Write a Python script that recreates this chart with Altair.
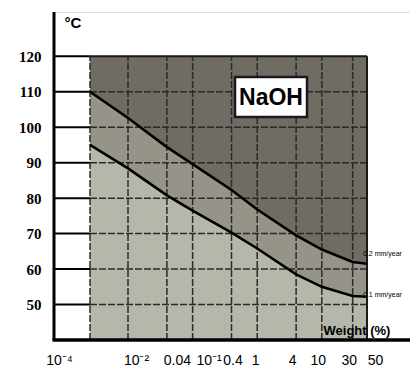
import altair as alt
import pandas as pd

# ---------------- data ----------------
weight = [1e-3, 1e-2, 0.04, 0.1, 0.4, 1, 4, 10, 30, 50]
temp_02 = [110, 102.6, 94.4, 89.6, 82.3, 76.8, 69.5, 65.5, 62.0, 61.5]   # 0.2 mm/year
temp_01 = [95, 88.4, 80.8, 76.5, 70.3, 65.8, 58.5, 55.0, 52.4, 52.2]     # 0.1 mm/year
curve_names = ["0.2 mm/year", "0.1 mm/year"]

tick_values = [1e-4, 1e-2, 0.04, 0.1, 0.4, 1, 4, 10, 30, 50]
tick_labels = ["10⁻⁴", "10⁻²", "0.04", "10⁻¹", "0.4", "1", "4", "10", "30", "50"]
temp_ticks = [50, 60, 70, 80, 90, 100, 110, 120]
grid_weights = [1e-3, 1e-2, 0.04, 0.1, 0.4, 1, 4, 10, 30]

t_min, t_max = 40, 120
x_origin, x_start, x_end = 5e-5, 1e-3, 50
title_text = "NaOH"

# ---------------- styling ----------------
W, H = 356, 328
DARK = "#706b63"
MID = "#969489"
LIGHT = "#b3b8aa"
GRID = "#2a2a2a"

label_offsets = [-3, 8, 10, 16, 1, -2, -4, -4, -4, 8]
vals_js = "[" + ",".join(repr(v) for v in tick_values) + "]"
labs_js = "[" + ",".join("'" + s + "'" for s in tick_labels) + "]"
offs_js = "[" + ",".join(str(v) for v in label_offsets) + "]"

xscale = alt.Scale(type="log", domain=[x_origin, 1e-4, 1e-3, 1e-2, x_end],
                   range=[0, 8, 36, 74, 313], nice=False)
yscale = alt.Scale(domain=[40, 132.5], nice=False, zero=False)

xaxis = alt.Axis(values=tick_values, grid=False, ticks=False, domain=False, zindex=1,
                 labelExpr=f"{labs_js}[indexof({vals_js}, datum.value)]",
                 labelOffset={"expr": f"{offs_js}[indexof({vals_js}, datum.value)]"},
                 labelFont="Liberation Sans Narrow, Liberation Sans", labelFontSize=14,
                 labelColor="black", labelPadding=13, labelFlush=False, labelOverlap=False,
                 title="Weight (%)", titleFont="Liberation Sans Narrow, Liberation Sans",
                 titleFontSize=13, titleFontWeight="bold", titleColor="black",
                 titleAlign="left", titleAnchor="start", titleX=269, titleY=-3,
                 titleBaseline="bottom")
yaxis = alt.Axis(values=temp_ticks, grid=False, ticks=False, domain=False, zindex=1,
                 labelFont="Liberation Serif", labelFontSize=15, labelFontWeight="bold",
                 labelColor="black", labelPadding=13,
                 title="°C", titleAngle=0, titleX=10, titleY=10, titleAlign="left",
                 titleBaseline="middle", titleFont="Liberation Sans", titleFontSize=15,
                 titleFontWeight="bold", titleColor="black")

df = pd.DataFrame({"w": weight, "upper": temp_02, "lower": temp_01,
                   "top": t_max, "bottom": t_min})
df_long = pd.DataFrame({
    "w": weight * 2,
    "t": temp_02 + temp_01,
    "curve": [curve_names[0]] * len(weight) + [curve_names[1]] * len(weight),
})
dummy = alt.Data(values=[{}])

X = lambda f, **k: alt.X(f, scale=xscale, axis=xaxis, **k)
Y = lambda f, **k: alt.Y(f, scale=yscale, axis=yaxis, **k)

light = alt.Chart(df).mark_area(color=LIGHT).encode(x=X("w:Q"), y=Y("lower:Q"), y2="bottom:Q")
mid = alt.Chart(df).mark_area(color=MID).encode(x=X("w:Q"), y=Y("upper:Q"), y2="lower:Q")
dark = alt.Chart(df).mark_area(color=DARK).encode(x=X("w:Q"), y=Y("top:Q"), y2="upper:Q")

df_hw = pd.DataFrame({"t": temp_ticks, "x0": x_origin, "x1": x_start})
hgrid_white = alt.Chart(df_hw).mark_rule(color="black", strokeWidth=2).encode(
    x=X("x0:Q"), x2="x1:Q", y=Y("t:Q"))

df_hs = pd.DataFrame({"t": [t for t in temp_ticks if t < t_max], "x0": x_start, "x1": x_end})
hgrid_shade = alt.Chart(df_hs).mark_rule(color=GRID, strokeWidth=1.5, strokeDash=[7, 2]).encode(
    x=X("x0:Q"), x2="x1:Q", y=Y("t:Q"))

df_v = pd.DataFrame({"w": grid_weights, "b": t_min, "t": t_max})
vgrid = alt.Chart(df_v).mark_rule(color=GRID, strokeWidth=1.5, strokeDash=[7, 2]).encode(
    x=X("w:Q"), y=Y("b:Q"), y2="t:Q")

border_r = alt.Chart(pd.DataFrame({"w": [x_end], "b": [t_min], "t": [t_max]})).mark_rule(
    color="#1a1a1a", strokeWidth=2).encode(x=X("w:Q"), y=Y("b:Q"), y2="t:Q")
border_t = alt.Chart(pd.DataFrame({"x0": [x_start], "x1": [x_end], "t": [t_max]})).mark_rule(
    color="#1a1a1a", strokeWidth=2).encode(x=X("x0:Q"), x2="x1:Q", y=Y("t:Q"))

curves = alt.Chart(df_long).mark_line(color="black", strokeWidth=2.6).encode(
    x=X("w:Q"), y=Y("t:Q"), detail="curve:N")

lab_up = alt.Chart(pd.DataFrame({"w": [x_end], "t": [temp_02[-1]], "s": [curve_names[0]]})).mark_text(
    align="left", baseline="middle", dx=-4, dy=-10, fontSize=7, font="Liberation Sans",
    color="black").encode(x=X("w:Q"), y=Y("t:Q"), text="s:N")
lab_lo = alt.Chart(pd.DataFrame({"w": [x_end], "t": [temp_01[-1]], "s": [curve_names[1]]})).mark_text(
    align="left", baseline="middle", dx=-4, dy=-2, fontSize=7, font="Liberation Sans",
    color="black").encode(x=X("w:Q"), y=Y("t:Q"), text="s:N")

box = alt.Chart(dummy).mark_rect(fill="white", stroke="#1a1a1a", strokeWidth=2.5).encode(
    x=alt.value(181), x2=alt.value(253), y=alt.value(65), y2=alt.value(105))
box_text = alt.Chart(dummy).mark_text(
    font="Liberation Sans Narrow, Liberation Sans", fontSize=23, fontWeight="bold",
    color="black", align="center", baseline="middle").encode(
    x=alt.value(217), y=alt.value(86), text=alt.value(title_text))

y_line = alt.Chart(dummy).mark_rule(color="black", strokeWidth=3).encode(
    x=alt.value(0), y=alt.value(0), y2=alt.value(H))
x_line = alt.Chart(dummy).mark_rule(color="black", strokeWidth=3.5).encode(
    x=alt.value(-1.5), x2=alt.value(W), y=alt.value(H))

chart = alt.layer(
    light, mid, dark, hgrid_white, hgrid_shade, vgrid, border_r, border_t,
    curves, lab_up, lab_lo, box, box_text, y_line, x_line
).properties(
    width=W, height=H,
    padding={"left": 46, "top": 4, "right": 0, "bottom": 30},
    autosize=alt.AutoSizeParams(type="none"),
).configure_view(stroke=None).configure(background="white")

chart.save("out.html", embed_options={"renderer": "svg", "actions": False})
